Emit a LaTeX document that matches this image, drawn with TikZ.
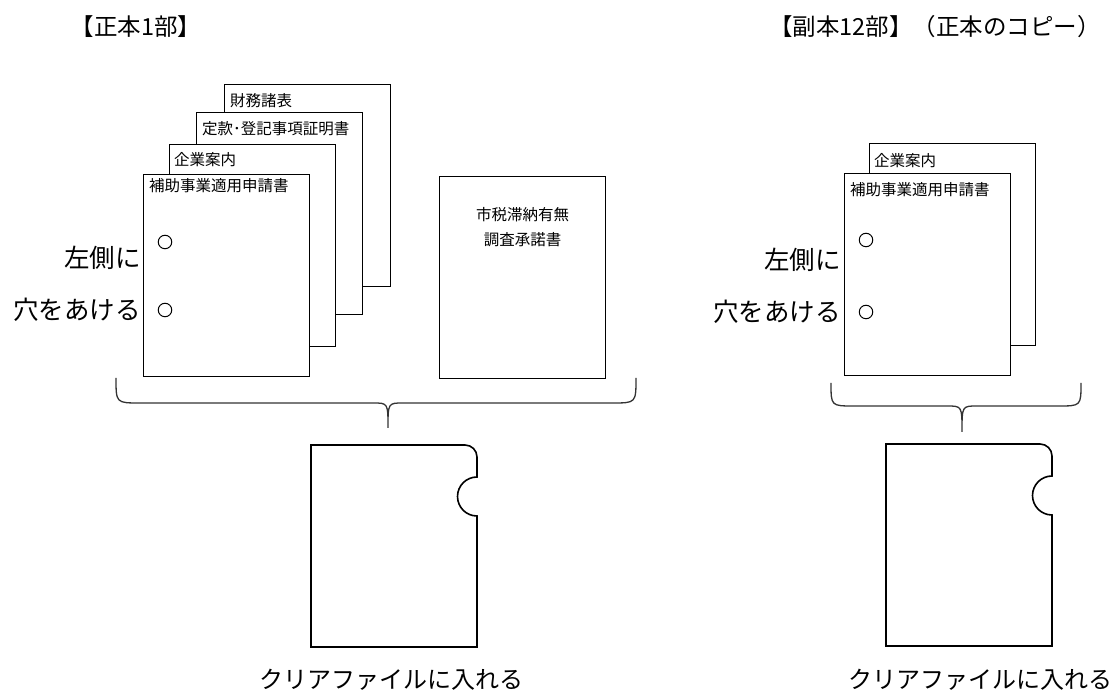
\documentclass[tikz,border=0pt]{standalone}
\usepackage{fontspec}
\setmainfont{Noto Sans CJK JP}
\usetikzlibrary{positioning}

\begin{document}
\begin{tikzpicture}[x=1pt,y=1pt,
    sheet/.style={draw,fill=white,line width=1pt,minimum width=166pt,minimum height=202pt,inner sep=0pt,anchor=north west},
    sheettext/.style={font=\fontsize{15.5}{25}\selectfont,inner sep=0pt,anchor=west},
    title/.style={font=\fontsize{23.5}{28}\selectfont,inner sep=0pt},
    bigtext/.style={font=\fontsize{25.5}{30}\selectfont,inner sep=0pt,anchor=east},
    filetext/.style={font=\fontsize{24}{28}\selectfont,inner sep=0pt},
    hole/.style={draw,circle,line width=1pt,minimum size=13.5pt,inner sep=0pt},
    brace/.style={line width=1.3pt,draw=black!80},
    folder/.style={line width=1.6pt}]
    \useasboundingbox (0,0) rectangle (1116,693);
    \def\clearfile{(0,0) -- (0,202) -- (154,202) arc[start angle=90,end angle=0,radius=12] -- (166,170) arc[start angle=90,end angle=270,radius=19.5] -- (166,0) -- cycle}

    % 正本
    \node[title] (seihon) at (136,666) {【正本1部】};
    \node[sheet] (zaimu) at (224,609) {};
    \node[sheet] (teikan) at (196,581) {};
    \node[sheet] (kigyo) at (169,549) {};
    \node[sheet] (hojo) at (143,519) {};
    \node[sheettext] (zaimut) at ([xshift=6pt,yshift=-17pt]zaimu.north west) {財務諸表};
    \node[sheettext] (teikant) at ([xshift=6pt,yshift=-17pt]teikan.north west) {定款･登記事項証明書};
    \node[sheettext] (kigyot) at ([xshift=5pt,yshift=-16pt]kigyo.north west) {企業案内};
    \node[sheettext] (hojot) at ([xshift=6pt,yshift=-12pt]hojo.north west) {補助事業適用申請書};
    \node[hole] (hole1) at (165,451) {};
    \node[hole] (hole2) at (165,383) {};
    \node[bigtext] (hidari) at (141,435) {左側に};
    \node[bigtext] (ana) at (141,383) {穴をあける};
    \node[sheet] (shizei) at (439,517) {};
    \node[sheettext,anchor=center,align=center] (shizeit) at ([yshift=-51pt]shizei.north) {市税滞納有無\\調査承諾書};
    \draw[brace] (116,315) .. controls (116,290) .. (140,290) -- (373,290) .. controls (388,290) .. (388,265)
        .. controls (388,290) .. (403,290) -- (612,290) .. controls (636,290) .. (636,315);
    \draw[folder,shift={(311,46)}] \clearfile;
    \node[filetext] (ireru) at (391,13) {クリアファイルに入れる};

    % 副本
    \node[title] (fukuhon) at (935,666) {【副本12部】（正本のコピー）};
    \node[sheet] (kigyoR) at (869,550) {};
    \node[sheet] (hojoR) at (844,520) {};
    \node[sheettext] (kigyoRt) at ([xshift=5pt,yshift=-18pt]kigyoR.north west) {企業案内};
    \node[sheettext] (hojoRt) at ([xshift=6pt,yshift=-17pt]hojoR.north west) {補助事業適用申請書};
    \node[hole] (hole3) at (866,453) {};
    \node[hole] (hole4) at (866,381) {};
    \node[bigtext] (hidariR) at (841,433) {左側に};
    \node[bigtext] (anaR) at (841,381) {穴をあける};
    \draw[brace] (831,310) .. controls (831,287) .. (854,287) -- (947,287) .. controls (962,287) .. (962,261)
        .. controls (962,287) .. (977,287) -- (1058,287) .. controls (1081,287) .. (1081,310);
    \draw[folder,shift={(886,47)}] \clearfile;
    \node[filetext] (ireruR) at (980,13) {クリアファイルに入れる};
\end{tikzpicture}
\end{document}
